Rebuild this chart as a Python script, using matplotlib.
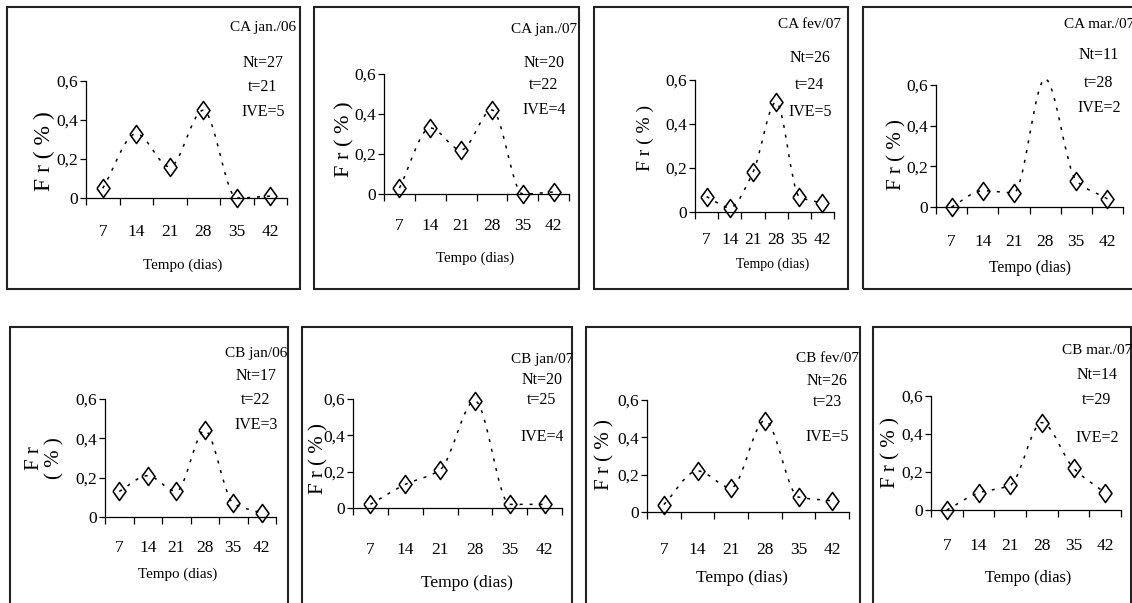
import numpy as np
import matplotlib
matplotlib.use('Agg')
import matplotlib.pyplot as plt
from matplotlib.path import Path
from matplotlib.patches import PathPatch, Rectangle

plt.rcParams['font.family'] = ['Liberation Serif', 'DejaVu Serif']

# Data
dias = ['7', '14', '21', '28', '35', '42']
titulos = ['CA jan./06', 'CA jan./07', 'CA fev/07', 'CA mar./07',
           'CB jan/06', 'CB jan/07', 'CB fev/07', 'CB mar./07']
nt = [27, 20, 26, 11, 17, 20, 26, 14]
t_val = [21, 22, 24, 28, 22, 25, 23, 29]
ive = [5, 4, 5, 2, 3, 4, 5, 2]

fr_ca_jan06 = [0.05, 0.33, 0.16, 0.45, 0.00, 0.01]
fr_ca_jan07 = [0.03, 0.33, 0.22, 0.42, 0.00, 0.01]
fr_ca_fev07 = [0.07, 0.02, 0.18, 0.50, 0.07, 0.04]
fr_ca_mar07 = [0.00, 0.08, 0.07, 0.63, 0.13, 0.04]
fr_cb_jan06 = [0.13, 0.21, 0.13, 0.44, 0.07, 0.02]
fr_cb_jan07 = [0.02, 0.13, 0.21, 0.59, 0.02, 0.02]
fr_cb_fev07 = [0.04, 0.22, 0.13, 0.49, 0.08, 0.06]
fr_cb_mar07 = [0.00, 0.09, 0.13, 0.46, 0.22, 0.09]
series = [fr_ca_jan06, fr_ca_jan07, fr_ca_fev07, fr_ca_mar07,
          fr_cb_jan06, fr_cb_jan07, fr_cb_fev07, fr_cb_mar07]

yticks = [0, 0.2, 0.4, 0.6]
ytick_labels = ['0', '0,2', '0,4', '0,6']

# Layout in pixels of the 1132x603 picture
W, H = 1132, 603
layout = [
    dict(box=(7, 7, 300, 289), ax=(86, 287, 198, 81), cx=263, ys=(27, 63, 87, 112),
         yl=(44, 151, 17, 'F r ( % )'), xl=(183, 265, 10.8), xt=237),
    dict(box=(314, 7, 579, 289), ax=(384, 569, 194, 74), cx=544, ys=(29, 63, 85, 110),
         yl=(345, 139, 16, 'F r ( % )'), xl=(475, 258, 10.6), xt=231),
    dict(box=(594, 7, 848, 289), ax=(695, 834, 212, 80), cx=810, ys=(25, 58, 85, 112),
         yl=(645, 138, 14, 'F r ( % )'), xl=(773, 264, 10), xt=245),
    dict(box=(863, 7, 1140, 289), ax=(936, 1123, 207, 85), cx=1099, ys=(25, 55, 83, 108),
         yl=(897, 155, 15, 'F r ( % )'), xl=(1030, 268, 11.2), xt=247, hide=[3]),
    dict(box=(10, 327, 288, 610), ax=(105, 276, 517, 399), cx=256, ys=(353, 376, 400, 425),
         yl=(45, 458, 15, 'F r\n( % )'), xl=(178, 574, 10.8), xt=553),
    dict(box=(302, 327, 572, 610), ax=(353, 562, 508, 399), cx=542, ys=(360, 380, 400, 437),
         yl=(319, 459, 15, 'F r ( % )'), xl=(467, 583, 12.5), xt=555),
    dict(box=(586, 327, 860, 610), ax=(647, 849, 512, 400), cx=827, ys=(358, 381, 402, 437),
         yl=(605, 455, 15, 'F r ( % )'), xl=(742, 578, 12.5), xt=555),
    dict(box=(873, 327, 1131, 610), ax=(931, 1121, 510, 396), cx=1097, ys=(350, 375, 400, 438),
         yl=(891, 453, 15, 'F r ( % )'), xl=(1028, 578, 11.7), xt=551),
]

diamond = [(-0.72, 0), (0, 1), (0.72, 0), (0, -1), (-0.72, 0)]
tick_fs = 12.5


def fx(px):
    return px / W


def fy(py):
    return 1 - py / H


def smooth_path(x, y):
    # monotone cubic (no overshoot) drawn as bezier segments
    x = np.asarray(x, float)
    y = np.asarray(y, float)
    h = np.diff(x)
    d = np.diff(y) / h
    m = np.zeros_like(y)
    m[0], m[-1] = d[0], d[-1]
    for i in range(1, len(y) - 1):
        if d[i - 1] * d[i] > 0:
            m[i] = 2 / (1 / d[i - 1] + 1 / d[i])
    verts = [(x[0], y[0])]
    codes = [Path.MOVETO]
    for i in range(len(x) - 1):
        verts += [(x[i] + h[i] / 3, y[i] + m[i] * h[i] / 3),
                  (x[i + 1] - h[i] / 3, y[i + 1] - m[i + 1] * h[i] / 3),
                  (x[i + 1], y[i + 1])]
        codes += [Path.CURVE4] * 3
    return Path(verts, codes)


fig = plt.figure(figsize=(W / 100, H / 100), dpi=100)

for k, lay in enumerate(layout):
    # frame around each panel
    x0, y0, x1, y1 = lay['box']
    fig.add_artist(Rectangle((fx(x0), fy(y1)), (x1 - x0) / W, (y1 - y0) / H,
                             transform=fig.transFigure, fill=False,
                             edgecolor='#222222', linewidth=1.5))

    L, R, B, T = lay['ax']
    ax = fig.add_axes([fx(L), fy(B), (R - L) / W, (B - T) / H])
    ax.patch.set_visible(False)
    for s in ['top', 'right']:
        ax.spines[s].set_visible(False)
    for s in ['left', 'bottom']:
        ax.spines[s].set_linewidth(0.9)

    xs = np.arange(len(dias))
    vals = series[k]
    hide = lay.get('hide', [])
    keep = [i for i in range(len(vals)) if i not in hide]
    ax.plot(xs, vals, linestyle='none', marker=diamond, markersize=13,
            markerfacecolor='white', markeredgecolor='black',
            markeredgewidth=1.15, markevery=keep, clip_on=False, zorder=2)
    ax.add_patch(PathPatch(smooth_path(xs, vals), fill=False, edgecolor='black',
                           linewidth=1.1, linestyle=(0, (2, 4.5)),
                           clip_on=False, zorder=3))

    ax.set_xlim(-0.5, len(dias) - 0.5)
    ax.set_ylim(0, 0.6)
    ax.set_xticks(np.arange(-0.5, len(dias), 1), [''] * (len(dias) + 1))
    ax.set_xticks(xs, dias, minor=True)
    pad_px = (lay['xt'] - B) - 7 - 6
    ax.tick_params(axis='x', which='major', direction='out', length=5, width=0.9)
    ax.tick_params(axis='x', which='minor', length=0, pad=pad_px * 0.72,
                   labelsize=tick_fs)
    ax.set_yticks(yticks, ytick_labels)
    ax.tick_params(axis='y', direction='out', length=4.5, width=0.9, pad=1.5,
                   labelsize=tick_fs)

    # panel annotations
    lines = [titulos[k], 'Nt=%d' % nt[k], 't=%d' % t_val[k], 'IVE=%d' % ive[k]]
    sizes = [11, 11.5, 11.5, 11.5]
    for txt, yy, fs in zip(lines, lay['ys'], sizes):
        fig.text(fx(lay['cx']), fy(yy), txt, ha='center', va='center', fontsize=fs)

    yx, yy, ys, ytxt = lay['yl']
    fig.text(fx(yx), fy(yy), ytxt, rotation=90, ha='center', va='center',
             fontsize=ys, multialignment='center', linespacing=1.1)
    xx, xy, xsz = lay['xl']
    fig.text(fx(xx), fy(xy), 'Tempo (dias)', ha='center', va='center', fontsize=xsz)

fig.savefig('out.png', dpi=100)
